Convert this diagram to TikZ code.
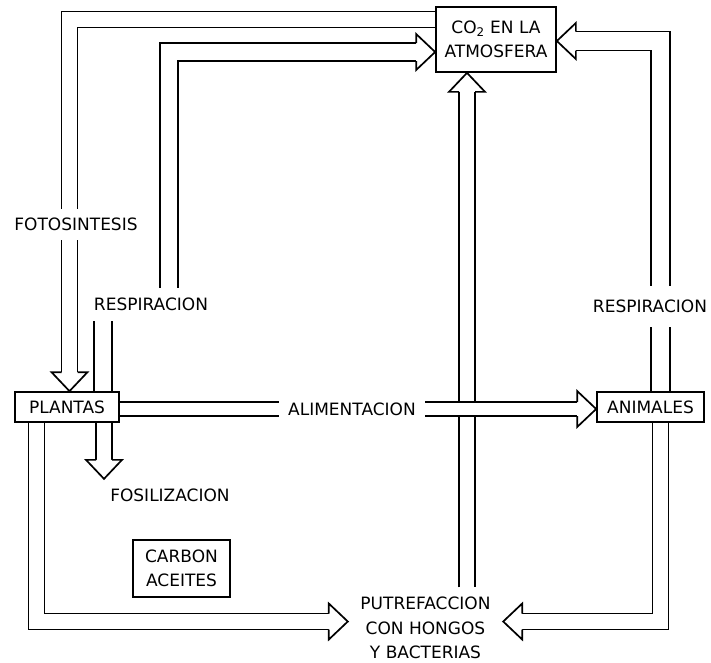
\documentclass[tikz,border=0pt]{standalone}
\usepackage{fontspec}
\setmainfont{DejaVu Sans}
\usetikzlibrary{calc}

\newcommand{\letra}{\fontsize{17}{24.5}\selectfont}

\tikzset{
	caja/.style={draw, line width=1.7pt, fill=white, inner sep=0pt, align=center},
	etiqueta/.style={fill=white, inner xsep=9pt, inner ysep=9pt},
	flujo/.style={double, double distance=#1, line width=1.7pt, shorten >=19pt},
	flujo/.default=14.3pt,
	punta/.pic={\draw[line width=1.7pt, line join=miter, fill=white] (-19,#1) -- (-19,18) -- (0,0) -- (-19,-18) -- (-19,-#1);}
}

\begin{document}
\begin{tikzpicture}[x=1pt, y=1pt, font=\letra]
	\useasboundingbox (0,0) rectangle (711,-662);
	\node[caja, minimum width=120pt, minimum height=65pt] (co2) at (496,-39.5) {CO\textsubscript{2} EN LA\\ATMOSFERA};
	\node[caja, minimum width=104pt, minimum height=30pt] (plantas) at (67,-407) {PLANTAS};
	\node[caja, minimum width=107pt, minimum height=30pt] (animales) at (650.5,-407) {ANIMALES};
	\node[caja, minimum width=97pt, minimum height=57pt] (carbon) at (181.5,-568.5) {CARBON\\ACEITES};
	\node[align=center, minimum width=155pt, inner ysep=9.5pt] (put) at (425.5,-628) {PUTREFACCION\\CON HONGOS\\Y BACTERIAS};
	
	\coordinate (tf) at ([xshift=2.5pt]plantas.north);
	\coordinate (tr) at ([yshift=-12.5pt]co2.west);
	\coordinate (tfos) at ([xshift=37pt,yshift=-56pt]plantas.south);
	\coordinate (tp) at ([xshift=-29pt]co2.south);
	\coordinate (ta) at ([yshift=-2pt]animales.west);
	\coordinate (tr2) at ([yshift=-1.5pt]co2.east);
	\coordinate (tq) at ([yshift=6.5pt]put.east);
	\coordinate (tv) at ([yshift=6.5pt]put.west);
	
	\draw[flujo] ([yshift=20pt]co2.west) -| (tf);
	\pic[rotate=-90] at (tf) {punta=8};
	\draw[flujo=16.3pt] ([xshift=36pt]plantas.north) |- (169,-304.5) |- (tr);
	\pic at (tr) {punta=9};
	\draw[flujo] ([xshift=37pt]plantas.south) -- (tfos);
	\pic[rotate=-90] at (tfos) {punta=8};
	\draw[flujo] (put.north -| tp) -- (tp);
	\pic[rotate=90] at (tp) {punta=8};
	\draw[flujo=12.3pt] ([yshift=-2pt]plantas.east) -- (ta);
	\pic at (ta) {punta=7};
	\draw[flujo=17.3pt] ([xshift=10pt]animales.north) |- (tr2);
	\pic[rotate=180] at (tr2) {punta=9.5};
	\draw[flujo] ([xshift=10pt]animales.south) |- (tq);
	\pic[rotate=180] at (tq) {punta=8};
	\draw[flujo] ([xshift=-30.5pt]plantas.south) |- (tv);
	\pic at (tv) {punta=8};
	
	\node[etiqueta] (foto) at (76,-224.5) {FOTOSINTESIS};
	\node[etiqueta, inner ysep=10pt] (resp) at (151,-304.5) {RESPIRACION};
	\node[etiqueta, inner ysep=14pt] (respa) at (650,-306.5) {RESPIRACION};
	\node[etiqueta] (alim) at (352,-409) {ALIMENTACION};
	\node (fosil) at (170,-495) {FOSILIZACION};
\end{tikzpicture}
\end{document}
